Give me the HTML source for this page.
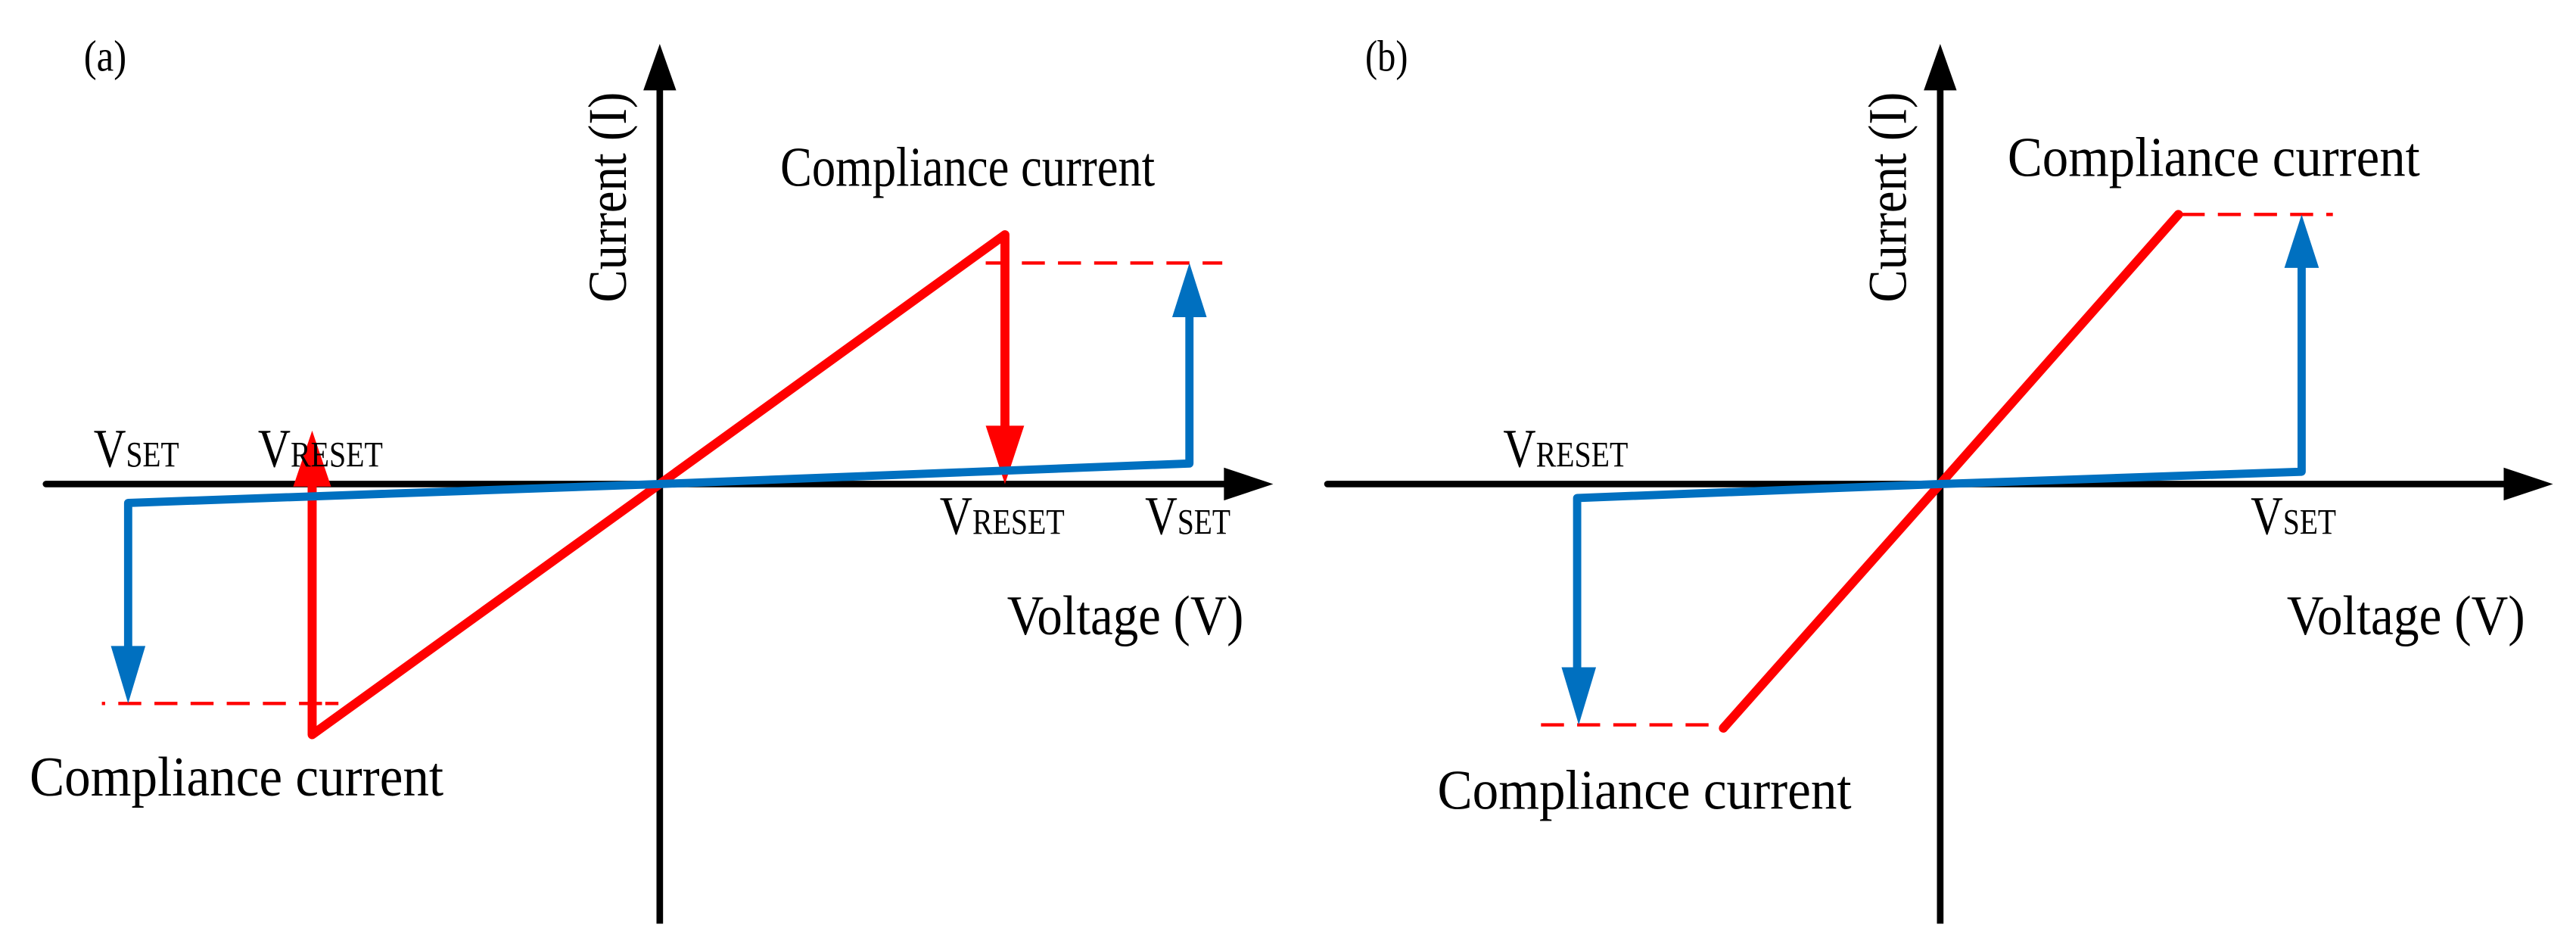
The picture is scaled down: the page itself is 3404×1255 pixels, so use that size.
<!DOCTYPE html>
<html><head><meta charset="utf-8"><style>
html,body{margin:0;padding:0;background:#fff;}
svg{display:block;}
text{font-family:"Liberation Serif",serif;fill:#000;}
</style></head><body>
<svg width="3404" height="1255" viewBox="0 0 1568 578" preserveAspectRatio="none" xmlns="http://www.w3.org/2000/svg">
<!-- Panel (a) -->
<text x="51" y="43" font-size="27" textLength="26" lengthAdjust="spacingAndGlyphs">(a)</text>
<line x1="28" y1="294.5" x2="752" y2="294.5" stroke="#000" stroke-width="4" stroke-linecap="round"/>
<polygon points="775,294.5 745,284.5 745,304.5" fill="#000"/>
<line x1="401.6" y1="562" x2="401.6" y2="50" stroke="#000" stroke-width="4"/>
<polygon points="401.6,26.7 391.6,55 411.6,55" fill="#000"/>
<text transform="translate(381,120) rotate(-90)" font-size="33" text-anchor="middle" textLength="128" lengthAdjust="spacingAndGlyphs">Current (I)</text>
<line x1="600" y1="160" x2="744" y2="160" stroke="#f00" stroke-width="2" stroke-dasharray="14,8"/>
<line x1="62" y1="428" x2="212" y2="428" stroke="#f00" stroke-width="2" stroke-dasharray="2,8,14,8,14,8,14,8,14,8,14,8,14"/>
<polyline points="611.7,265 611.7,142.8 401.6,294.5 190,447 190,295" fill="none" stroke="#f00" stroke-width="5.5" stroke-linejoin="round" stroke-linecap="round"/>
<polygon points="611.7,294.5 600,259 623.4,259" fill="#f00"/>
<polygon points="190,262 178.5,296 201.5,296" fill="#f00"/>
<polyline points="78,400 78,306 401.6,294.5 724,282 724,192" fill="none" stroke="#0070c0" stroke-width="5" stroke-linejoin="round"/>
<polygon points="724,160 713.5,193 734.5,193" fill="#0070c0"/>
<polygon points="78,428 67.5,393 88.5,393" fill="#0070c0"/>
<text x="57" y="284" font-size="33" textLength="52" lengthAdjust="spacingAndGlyphs">V<tspan font-size="22">SET</tspan></text>
<text x="157" y="284" font-size="33" textLength="76" lengthAdjust="spacingAndGlyphs">V<tspan font-size="22">RESET</tspan></text>
<text x="572" y="325" font-size="33" textLength="76" lengthAdjust="spacingAndGlyphs">V<tspan font-size="22">RESET</tspan></text>
<text x="697" y="325" font-size="33" textLength="52" lengthAdjust="spacingAndGlyphs">V<tspan font-size="22">SET</tspan></text>
<text x="475" y="113" font-size="34" textLength="228" lengthAdjust="spacingAndGlyphs">Compliance current</text>
<text x="18" y="484" font-size="34" textLength="252" lengthAdjust="spacingAndGlyphs">Compliance current</text>
<text x="613" y="386" font-size="34" textLength="144" lengthAdjust="spacingAndGlyphs">Voltage (V)</text>

<!-- Panel (b) -->
<text x="831" y="43" font-size="27" textLength="26" lengthAdjust="spacingAndGlyphs">(b)</text>
<line x1="808" y1="294.5" x2="1530" y2="294.5" stroke="#000" stroke-width="4" stroke-linecap="round"/>
<polygon points="1554,294.5 1524,284.5 1524,304.5" fill="#000"/>
<line x1="1181" y1="562" x2="1181" y2="50" stroke="#000" stroke-width="4"/>
<polygon points="1181,26.7 1171,55 1191,55" fill="#000"/>
<text transform="translate(1160,120) rotate(-90)" font-size="33" text-anchor="middle" textLength="128" lengthAdjust="spacingAndGlyphs">Current (I)</text>
<line x1="1328" y1="130.5" x2="1420" y2="130.5" stroke="#f00" stroke-width="2" stroke-dasharray="14,8"/>
<line x1="938" y1="441" x2="1048" y2="441" stroke="#f00" stroke-width="2" stroke-dasharray="14,8"/>
<polyline points="1326,130.5 1181,294.5 1049,443" fill="none" stroke="#f00" stroke-width="5.5" stroke-linecap="round" stroke-linejoin="round"/>
<polyline points="960,410 960,303 1181,294.5 1401,287 1401,160" fill="none" stroke="#0070c0" stroke-width="5" stroke-linejoin="round"/>
<polygon points="1401,130.5 1390.5,163 1411.5,163" fill="#0070c0"/>
<polygon points="961,441 950.5,406 971.5,406" fill="#0070c0"/>
<text x="915" y="284" font-size="33" textLength="76" lengthAdjust="spacingAndGlyphs">V<tspan font-size="22">RESET</tspan></text>
<text x="1370" y="325" font-size="33" textLength="52" lengthAdjust="spacingAndGlyphs">V<tspan font-size="22">SET</tspan></text>
<text x="1222" y="107" font-size="34" textLength="251" lengthAdjust="spacingAndGlyphs">Compliance current</text>
<text x="875" y="492" font-size="34" textLength="252" lengthAdjust="spacingAndGlyphs">Compliance current</text>
<text x="1392" y="386" font-size="34" textLength="145" lengthAdjust="spacingAndGlyphs">Voltage (V)</text>
</svg>
</body></html>
